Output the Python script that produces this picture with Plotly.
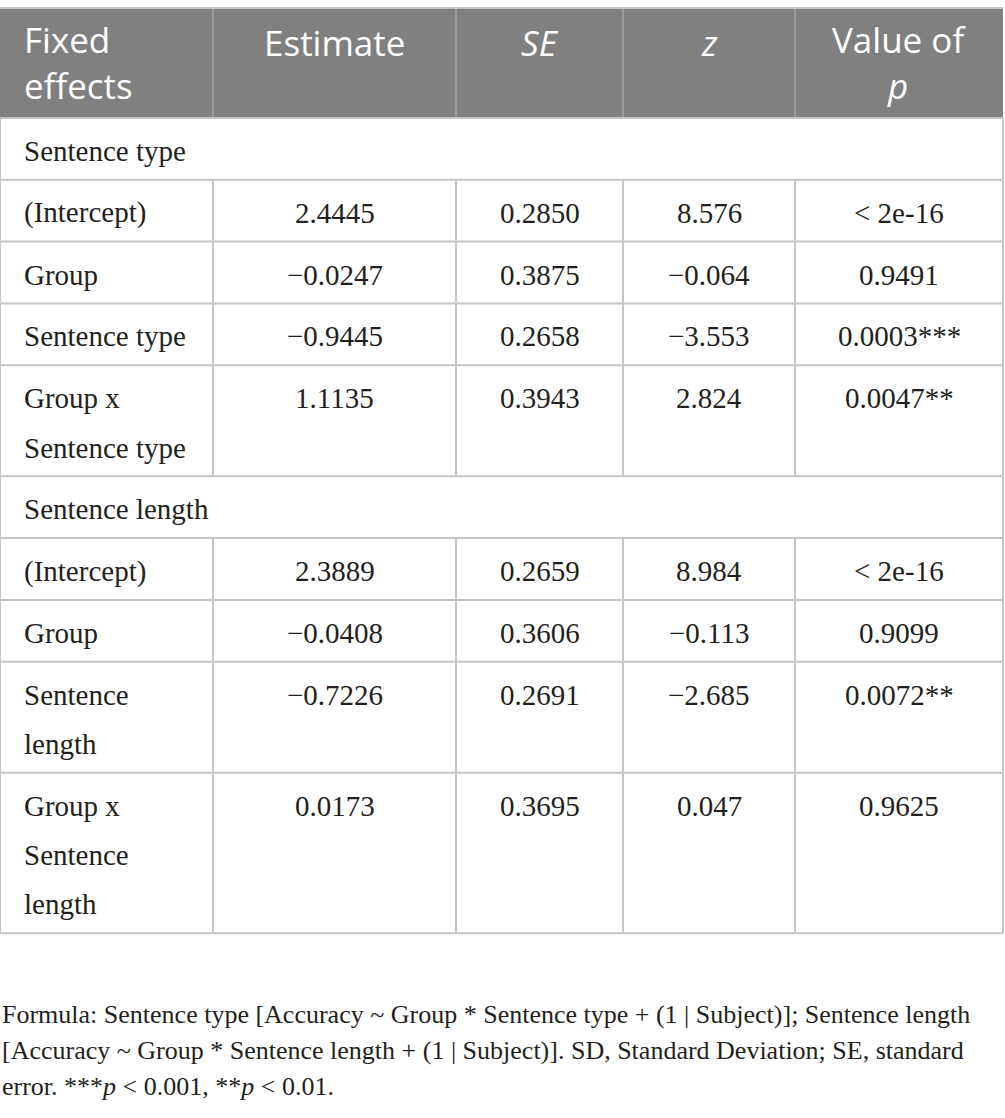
import plotly.graph_objects as go

# Table content
columns = ["Fixed<br>effects", "Estimate", "<i>SE</i>", "<i>z</i>", "Value of<br><i>p</i>"]
sections = ["Sentence type", "Sentence length"]
effects = [
    ["(Intercept)", "Group", "Sentence type", "Group x<br>Sentence type"],
    ["(Intercept)", "Group", "Sentence<br>length", "Group x<br>Sentence<br>length"],
]
estimate = [
    [2.4445, -0.0247, -0.9445, 1.1135],
    [2.3889, -0.0408, -0.7226, 0.0173],
]
se = [
    [0.2850, 0.3875, 0.2658, 0.3943],
    [0.2659, 0.3606, 0.2691, 0.3695],
]
z_value = [
    [8.576, -0.064, -3.553, 2.824],
    [8.984, -0.113, -2.685, 0.047],
]
p_value = [
    ["< 2e-16", "0.9491", "0.0003***", "0.0047**"],
    ["< 2e-16", "0.9099", "0.0072**", "0.9625"],
]
footnote = [
    "Formula: Sentence type [Accuracy ~ Group * Sentence type + (1 | Subject)]; Sentence length",
    "[Accuracy ~ Group * Sentence length + (1 | Subject)]. SD, Standard Deviation; SE, standard",
    "error. ***<i>p</i> < 0.001, **<i>p</i> < 0.01.",
]

# Layout settings (axis units = page pixels)
W, H = 1005, 1118
col_edges = [0, 213, 456, 623, 795, 1003]
table_top = 8
header_h = 110
row_base = 61.8    # height of a one-line row
line_gap = 49.3    # extra height per extra line
first_line = 33    # offset of first text line centre from row top
pad_left = 22

header_fill = "#808080"
header_div = "#a3a3a3"
grid = "#c6c6c6"
text_col = "#231f20"
serif = "Liberation Serif"
sans = "Open Sans"


def fmt(v, nd):
    s = f"{abs(v):.{nd}f}"
    return ("\u2212" + s) if v < 0 else s


# Build row list
rows = [("header", columns)]
for s_idx, name in enumerate(sections):
    rows.append(("section", [name]))
    for r in range(len(effects[s_idx])):
        rows.append(("data", [
            effects[s_idx][r],
            fmt(estimate[s_idx][r], 4),
            fmt(se[s_idx][r], 4),
            fmt(z_value[s_idx][r], 3),
            p_value[s_idx][r],
        ]))

fig = go.Figure()
shapes = []
annotations = []

y = table_top
for kind, cells in rows:
    nlines = max(c.count("<br>") + 1 for c in cells)
    h = header_h if kind == "header" else row_base + (nlines - 1) * line_gap
    top, bottom = y, y + h

    if kind == "header":
        shapes.append(dict(type="rect", x0=col_edges[0], x1=col_edges[-1], y0=top, y1=bottom,
                           fillcolor=header_fill, line=dict(width=0), layer="below"))
        for xe in col_edges[1:-1]:
            shapes.append(dict(type="line", x0=xe, x1=xe, y0=top, y1=bottom,
                               line=dict(color=header_div, width=1.5)))
    else:
        edges = [col_edges[0], col_edges[-1]] if kind == "section" else col_edges
        for xe in edges:
            shapes.append(dict(type="line", x0=xe, x1=xe, y0=top, y1=bottom,
                               line=dict(color=grid, width=2)))
    shapes.append(dict(type="line", x0=col_edges[0], x1=col_edges[-1], y0=bottom, y1=bottom,
                       line=dict(color=grid, width=2)))

    for c_idx, cell in enumerate(cells):
        if c_idx == 0:
            x, anchor = col_edges[0] + pad_left, "left"
        else:
            x, anchor = (col_edges[c_idx] + col_edges[c_idx + 1]) / 2, "center"
        if kind == "header":
            # one annotation per header cell, plotly spaces the lines itself
            n = cell.count("<br>") + 1
            yc = top + 34 + (n - 1) * 20
            annotations.append(dict(x=x, y=yc, text=cell, showarrow=False,
                                    xanchor=anchor, yanchor="middle", align=anchor,
                                    font=dict(family=sans, size=35, color="white")))
        else:
            for l_idx, txt in enumerate(cell.split("<br>")):
                annotations.append(dict(x=x, y=top + first_line + l_idx * line_gap, text=txt,
                                        showarrow=False, xanchor=anchor, yanchor="middle",
                                        font=dict(family=serif, size=29, color=text_col)))
    y = bottom

# top border of the table
shapes.append(dict(type="line", x0=col_edges[0], x1=col_edges[-1], y0=table_top, y1=table_top,
                   line=dict(color=grid, width=2)))

# footnote lines
for i, txt in enumerate(footnote):
    annotations.append(dict(x=0, y=1014 + i * 36, text=txt, showarrow=False,
                            xanchor="left", yanchor="middle",
                            font=dict(family=serif, size=26, color=text_col)))

fig.update_layout(
    width=W, height=H,
    margin=dict(l=0, r=0, t=0, b=0),
    paper_bgcolor="white", plot_bgcolor="white",
    xaxis=dict(range=[0, W], visible=False, fixedrange=True),
    yaxis=dict(range=[H, 0], visible=False, fixedrange=True),
    shapes=shapes,
    annotations=annotations,
    showlegend=False,
)

# drop the browser's default body margin so the figure sits at the page origin
fig.write_html("out.html", config={"displayModeBar": False},
               post_script="document.body.style.margin = '0px';")
